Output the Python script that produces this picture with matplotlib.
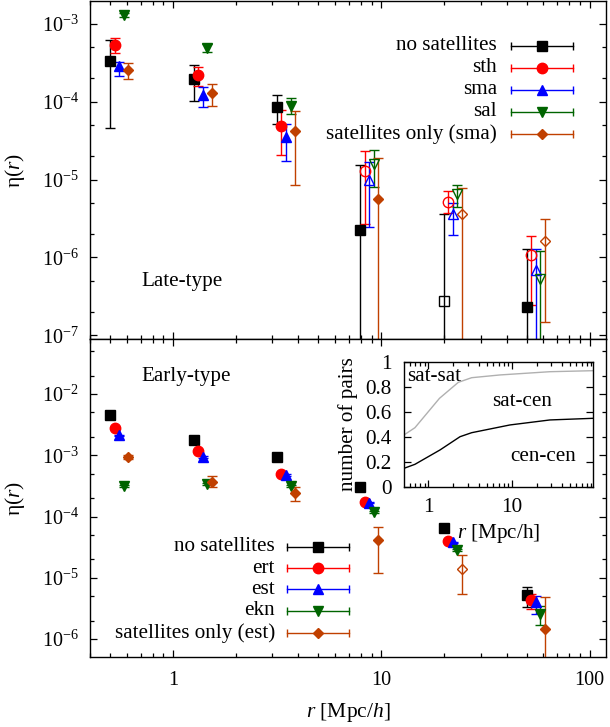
import numpy as np
import matplotlib
matplotlib.use("Agg")
import matplotlib.pyplot as plt
from matplotlib.ticker import LogLocator, NullFormatter, LogFormatterMathtext, FixedLocator

plt.rcParams['font.family'] = ['Liberation Serif', 'DejaVu Serif']
plt.rcParams['mathtext.fontset'] = 'custom'
plt.rcParams['mathtext.rm'] = 'Liberation Serif'
plt.rcParams['mathtext.it'] = 'Liberation Serif:italic'
plt.rcParams['axes.unicode_minus'] = False

# ---------------- data ----------------
x_ns = [0.5, 1.26, 3.16, 7.94, 20.0, 50.1]
x_s1 = [0.525, 1.32, 3.32, 8.34, 21.0, 52.6]
x_s2 = [0.55, 1.39, 3.48, 8.73, 22.0, 55.1]
x_s3 = [0.58, 1.46, 3.67, 9.21, 23.2, 58.1]
x_so = [0.61, 1.54, 3.86, 9.69, 24.4, 61.1]

# Late-type (top panel); lo = 1e-9 means bar runs below the axis
late_ns_y = [3.36e-4, 1.93e-4, 8.55e-5, 2.24e-6, 2.73e-7, 2.35e-7]
late_ns_hi = [6.2e-4, 2.95e-4, 1.2e-4, 1.55e-5, 3.6e-6, 1.3e-6]
late_ns_lo = [4.6e-5, 1.03e-4, 5.2e-5, 1e-9, 1e-9, 1e-9]
late_ns_open = [False, False, False, False, True, False]

late_sth_y = [5.3e-4, 2.22e-4, 4.8e-5, 1.28e-5, 5.2e-6, 1.08e-6]
late_sth_hi = [6.5e-4, 2.81e-4, 7.7e-5, 2.29e-5, 7.2e-6, 1.91e-6]
late_sth_lo = [4.2e-4, 1.59e-4, 2.05e-5, 2.69e-6, 3.7e-6, 2.43e-7]
late_sth_open = [False, False, False, True, True, True]

late_sma_y = [2.84e-4, 1.22e-4, 3.48e-5, 1.0e-5, 3.63e-6, 6.95e-7]
late_sma_hi = [3.26e-4, 1.52e-4, 5.2e-5, 1.69e-5, 5.0e-6, 1.3e-6]
late_sma_lo = [2.14e-4, 8.45e-5, 1.74e-5, 2.48e-6, 1.97e-6, 1e-9]
late_sma_open = [False, False, False, True, True, True]

late_sal_y = [1.3e-3, 4.82e-4, 8.9e-5, 1.58e-5, 6.5e-6, 5.33e-7]
late_sal_hi = [1.38e-3, 5.4e-4, 1.12e-4, 2.38e-5, 8.5e-6, 1.22e-6]
late_sal_lo = [1.22e-3, 4.36e-4, 6.9e-5, 8.05e-6, 4.4e-6, 1e-9]
late_sal_open = [False, False, False, True, True, True]

late_so_y = [2.55e-4, 1.29e-4, 4.2e-5, 5.66e-6, 3.6e-6, 1.65e-6]
late_so_hi = [3.13e-4, 1.67e-4, 7.5e-5, 1.87e-5, 7.7e-6, 3.16e-6]
late_so_lo = [1.93e-4, 8.8e-5, 8.4e-6, 1e-9, 1e-9, 1.48e-7]
late_so_open = [False, False, False, False, True, True]

# Early-type (bottom panel)
early_ns_y = [4.6e-3, 1.75e-3, 9.25e-4, 3.0e-4, 6.4e-5, 5.2e-6]
early_ns_hi = [4.7e-3, 1.79e-3, 9.45e-4, 3.07e-4, 6.6e-5, 7.0e-6]
early_ns_lo = [4.5e-3, 1.71e-3, 9.05e-4, 2.93e-4, 6.2e-5, 3.4e-6]
early_ns_open = [False] * 6

early_ert_y = [2.75e-3, 1.16e-3, 4.9e-4, 1.73e-4, 4.0e-5, 4.33e-6]
early_ert_hi = [2.8e-3, 1.19e-3, 5.0e-4, 1.77e-4, 4.1e-5, 5.4e-6]
early_ert_lo = [2.7e-3, 1.13e-3, 4.8e-4, 1.69e-4, 3.9e-5, 3.13e-6]
early_ert_open = [False] * 6

early_est_y = [2.12e-3, 9.35e-4, 4.76e-4, 1.68e-4, 3.8e-5, 4.0e-6]
early_est_hi = [2.17e-3, 9.6e-4, 4.86e-4, 1.72e-4, 3.9e-5, 5.1e-6]
early_est_lo = [2.07e-3, 9.1e-4, 4.66e-4, 1.64e-4, 3.7e-5, 2.6e-6]
early_est_open = [False] * 6

early_ekn_y = [3.18e-4, 3.4e-4, 3.15e-4, 1.2e-4, 2.87e-5, 2.56e-6]
early_ekn_hi = [3.3e-4, 3.55e-4, 3.3e-4, 1.25e-4, 3.0e-5, 3.5e-6]
early_ekn_lo = [3.06e-4, 3.25e-4, 3.0e-4, 1.15e-4, 2.74e-5, 1.7e-6]
early_ekn_open = [False] * 6

early_so_y = [9.35e-4, 3.7e-4, 2.39e-4, 4.08e-5, 1.41e-5, 1.48e-6]
early_so_hi = [1.0e-3, 4.53e-4, 3.03e-4, 6.8e-5, 2.32e-5, 4.95e-6]
early_so_lo = [8.7e-4, 3.07e-4, 1.81e-4, 1.2e-5, 5.4e-6, 1e-9]
early_so_open = [False, False, False, False, True, False]

late_labels = ['no satellites', 'sth', 'sma', 'sal', 'satellites only (sma)']
early_labels = ['no satellites', 'ert', 'est', 'ekn', 'satellites only (est)']

# inset: fraction of pairs
inset_r_ss = [0.51, 0.69, 1.36, 2.29, 3.31, 7.24, 28.8, 93.6]
inset_ss = [0.414, 0.472, 0.707, 0.835, 0.872, 0.894, 0.92, 0.928]
inset_r_cc = [0.51, 0.69, 1.38, 2.4, 3.31, 9.54, 28.8, 93.6]
inset_cc = [0.147, 0.179, 0.294, 0.4, 0.432, 0.494, 0.534, 0.547]

# ---------------- style ----------------
colors = ['black', '#ff0000', '#0000ff', '#006400', '#c04000']
markers = ['s', 'o', '^', 'v', 'D']
msizes = [7.5, 7.5, 7, 7, 5]
FS = 14.5
FSL = 15.2

fig = plt.figure(figsize=(6.10, 7.27), dpi=100)
L, R = 90 / 610, 606 / 610
ax1 = fig.add_axes([L, 1 - 339 / 727, R - L, 338 / 727])
ax2 = fig.add_axes([L, 1 - 657 / 727, R - L, 318 / 727])


def draw_series(ax, x, y, lo, hi, op, i):
    x = np.array(x); y = np.array(y); lo = np.array(lo); hi = np.array(hi)
    yerr = [y - lo, hi - y]
    ax.errorbar(x, y, yerr=yerr, fmt='none', ecolor=colors[i], elinewidth=1.0,
                capsize=3.5, capthick=1.0, zorder=2)
    op = np.array(op)
    if (~op).any():
        ax.plot(x[~op], y[~op], ls='none', marker=markers[i], ms=msizes[i],
                color=colors[i], mec=colors[i], zorder=3)
    if op.any():
        ax.plot(x[op], y[op], ls='none', marker=markers[i], ms=msizes[i],
                mfc='none', mec=colors[i], mew=1.0, zorder=3)


xs = [x_ns, x_s1, x_s2, x_s3, x_so]
late = [(late_ns_y, late_ns_lo, late_ns_hi, late_ns_open),
        (late_sth_y, late_sth_lo, late_sth_hi, late_sth_open),
        (late_sma_y, late_sma_lo, late_sma_hi, late_sma_open),
        (late_sal_y, late_sal_lo, late_sal_hi, late_sal_open),
        (late_so_y, late_so_lo, late_so_hi, late_so_open)]
early = [(early_ns_y, early_ns_lo, early_ns_hi, early_ns_open),
         (early_ert_y, early_ert_lo, early_ert_hi, early_ert_open),
         (early_est_y, early_est_lo, early_est_hi, early_est_open),
         (early_ekn_y, early_ekn_lo, early_ekn_hi, early_ekn_open),
         (early_so_y, early_so_lo, early_so_hi, early_so_open)]

for i in range(5):
    draw_series(ax1, xs[i], *late[i], i)
    draw_series(ax2, xs[i], *early[i], i)

for ax in (ax1, ax2):
    ax.set_xscale('log')
    ax.set_yscale('log')
    ax.set_xlim(0.4, 120)
    ax.xaxis.set_major_locator(LogLocator(base=10))
    ax.xaxis.set_minor_locator(LogLocator(base=10, subs=np.arange(2, 10)))
    ax.xaxis.set_minor_formatter(NullFormatter())
    ax.yaxis.set_major_locator(LogLocator(base=10))
    ax.yaxis.set_minor_locator(LogLocator(base=10, subs=(2, 5)))
    ax.yaxis.set_minor_formatter(NullFormatter())
    ax.yaxis.set_major_formatter(LogFormatterMathtext())
    ax.tick_params(which='both', direction='in', top=True, right=True, labelsize=FS)
    ax.tick_params(which='major', length=5, width=0.9)
    ax.tick_params(which='minor', length=2.8, width=0.9)
    ax.tick_params(axis='y', pad=8)
    ax.tick_params(axis='x', pad=10)
    for s in ax.spines.values():
        s.set_linewidth(1.0)
    ax.set_ylabel(r'$\mathrm{η(}r\mathrm{)}$', fontsize=FS + 1)
    ax.yaxis.set_label_coords(-0.122, 0.5)

ax1.set_ylim(9e-8, 1.95e-3)
ax2.set_ylim(5.1e-7, 7.9e-2)
ax1.tick_params(axis='x', labelbottom=False)
ax2.xaxis.set_major_formatter(matplotlib.ticker.FuncFormatter(lambda v, p: '%g' % v))
ax2.set_xlabel(r'$r$ [Mpc/$h$]', fontsize=FS + 1, labelpad=8)

ax1.text(0.1, 0.17, 'Late-type', transform=ax1.transAxes, fontsize=FSL, va='center', ha='left')
ax2.text(0.1, 0.882, 'Early-type', transform=ax2.transAxes, fontsize=FSL, va='center', ha='left')


def draw_legend(ax, labels, xt, x0, x1, ys):
    for i, (lab, yy) in enumerate(zip(labels, ys)):
        ax.text(xt, yy, lab, transform=ax.transAxes, fontsize=FSL, ha='right', va='center')
        ax.plot([x0, x1], [yy, yy], transform=ax.transAxes, color=colors[i], lw=1.0, zorder=5)
        ax.plot([x0, x1], [yy, yy], transform=ax.transAxes, ls='none', marker='|', ms=6,
                mew=1.0, color=colors[i], zorder=5)
        ax.plot([(x0 + x1) / 2], [yy], transform=ax.transAxes, ls='none', marker=markers[i],
                ms=msizes[i], color=colors[i], zorder=6)


draw_legend(ax1, late_labels, 0.789, 0.816, 0.936, [0.868, 0.802, 0.737, 0.672, 0.607])
draw_legend(ax2, early_labels, 0.3585, 0.382, 0.502, [0.347, 0.279, 0.213, 0.145, 0.075])

# ---------------- inset ----------------
axi = fig.add_axes([404 / 610, 1 - 486.7 / 727, 188.7 / 610, 125 / 727])
axi.set_facecolor('white')
axi.set_zorder(10)
axi.plot(inset_r_ss, inset_ss, color='#b0b0b0', lw=1.0)
axi.plot(inset_r_cc, inset_cc, color='black', lw=1.0)
axi.set_xscale('log')
axi.set_xlim(0.51, 94)
axi.set_ylim(0, 1)
axi.yaxis.set_major_locator(FixedLocator([0, 0.2, 0.4, 0.6, 0.8, 1.0]))
axi.yaxis.set_major_formatter(matplotlib.ticker.FuncFormatter(lambda v, p: '%g' % v))
axi.xaxis.set_major_locator(LogLocator(base=10))
axi.xaxis.set_minor_locator(LogLocator(base=10, subs=np.arange(2, 10)))
axi.xaxis.set_minor_formatter(NullFormatter())
axi.xaxis.set_major_formatter(matplotlib.ticker.FuncFormatter(lambda v, p: '%g' % v))
axi.tick_params(which='both', direction='in', top=True, right=True, labelsize=FSL, width=0.9)
axi.tick_params(which='major', length=5)
axi.tick_params(which='minor', length=2.8)
axi.tick_params(axis='y', pad=9)
axi.tick_params(axis='x', pad=8)
for s in axi.spines.values():
    s.set_linewidth(1.0)
axi.set_ylabel('number of pairs', fontsize=FSL, labelpad=5)
axi.set_xlabel(r'$r$ [Mpc/h]', fontsize=FSL, labelpad=4)
axi.text(0.016, 0.88, 'sat-sat', transform=axi.transAxes, fontsize=FSL, ha='left', va='center')
axi.text(0.624, 0.68, 'sat-cen', transform=axi.transAxes, fontsize=FSL, ha='center', va='center')
axi.text(0.738, 0.24, 'cen-cen', transform=axi.transAxes, fontsize=FSL, ha='center', va='center')

fig.savefig('out.png', dpi=100)
